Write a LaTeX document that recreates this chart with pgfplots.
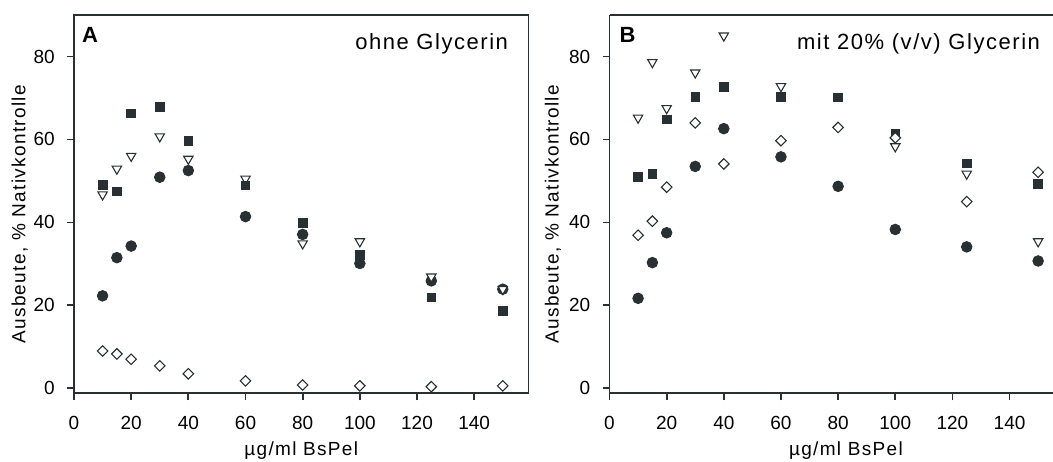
\documentclass[border=0pt]{standalone}
\usepackage{fontspec}
\setmainfont{Liberation Sans}
\newfontfamily\spaced[LetterSpace=7]{Liberation Sans}
\usepackage{pgfplots}
\pgfplotsset{compat=1.18}
\definecolor{ink}{RGB}{40,48,52}

\pgfplotstableread{
x y
10 22.3
15 31.5
20 34.3
30 50.9
40 52.5
60 41.4
80 37.1
100 30.1
125 25.9
150 23.9
}\Acirc
\pgfplotstableread{
x y
10 46.7
15 52.9
20 56.0
30 60.7
40 55.3
60 50.5
80 34.9
100 35.4
125 26.9
150 23.9
}\Atri
\pgfplotstableread{
x y
10 49.1
15 47.5
20 66.3
30 67.9
40 59.6
60 48.9
80 39.8
100 32.1
125 21.9
150 18.7
}\Asq
\pgfplotstableread{
x y
10 9.0
15 8.3
20 7.0
30 5.4
40 3.5
60 1.8
80 0.8
100 0.6
125 0.4
150 0.6
}\Adia
\pgfplotstableread{
x y
10 21.7
15 30.3
20 37.5
30 53.5
40 62.6
60 55.8
80 48.7
100 38.3
125 34.1
150 30.7
}\Bcirc
\pgfplotstableread{
x y
10 65.2
15 78.6
20 67.5
30 76.1
40 85.0
60 72.8
100 58.3
125 51.7
150 35.4
}\Btri
\pgfplotstableread{
x y
10 50.9
15 51.7
20 64.8
30 70.2
40 72.7
60 70.2
80 70.1
100 61.4
125 54.2
150 49.3
}\Bsq
\pgfplotstableread{
x y
10 36.9
15 40.3
20 48.5
30 64.0
40 54.1
60 59.7
80 62.9
100 60.4
125 45.0
150 52.1
}\Bdia

\pgfplotsset{
  every non boxed y axis/.style={},
  every non boxed x axis/.style={},
  panel/.style={
    scale only axis, height=189.15pt,
    ymin=-1.2, ymax=90, xmin=0,
    xtick={0,20,...,140}, ytick={0,20,...,80},
    xtick pos=bottom, ytick pos=left,
    tick align=outside, major tick length=3.5pt,
    axis line style={ink, line width=0.9pt},
    every tick/.style={ink, line width=0.9pt},
    ticklabel style={font=\fontsize{9.5}{11}\selectfont, text=black},
    /pgf/number format/assume math mode=true,
    xticklabel style={inner sep=0pt, yshift=-7.7pt},
    yticklabel style={inner sep=0pt, xshift=-5.9pt},
    label style={font=\fontsize{9.5}{11}\selectfont\spaced, text=black},
    clip=false,
  },
  circ/.style={only marks, mark=*, mark size=2.67pt, color=ink},
  tri/.style={only marks, mark=triangle*, mark size=2.7pt,
     mark options={rotate=180, fill=white, draw=ink, line width=0.55pt}},
  sq/.style={only marks, mark=square*, mark size=2.17pt, color=ink},
  dia/.style={only marks, mark=square*, mark size=1.86pt,
     mark options={rotate=45, fill=white, draw=ink, line width=0.55pt}},
}

\begin{document}
\begin{tikzpicture}
\useasboundingbox (0,0) rectangle (526.5pt,230.5pt);
\begin{axis}[panel, at={(37pt,33.85pt)}, anchor=south west,
  width=227.25pt, xmax=159,
  xlabel={µg/ml BsPel},
  ylabel={Ausbeute, \% Nativkontrolle},
  xlabel style={at={(axis description cs:0.5,-0.1644)}, anchor=base},
  ylabel style={at={(axis description cs:-0.1195,0.473)}, anchor=center},
]
\addplot[circ] table {\Acirc};
\addplot[tri] table {\Atri};
\addplot[sq] table {\Asq};
\addplot[dia] table {\Adia};
\node[anchor=base west, inner sep=0pt, font=\fontsize{11}{13}\selectfont\bfseries] at (rel axis cs:0.0169,0.9268) {A};
\node[anchor=base west, inner sep=0pt, font=\fontsize{11}{13}\selectfont\spaced] at (rel axis cs:0.618,0.909) {ohne Glycerin};
\end{axis}
\begin{axis}[panel, at={(304.75pt,33.85pt)}, anchor=south west,
  width=221.75pt, xmax=155.2,
  axis x line*=box, axis y line*=left,
  xlabel={µg/ml BsPel},
  ylabel={Ausbeute, \% Nativkontrolle},
  xlabel style={at={(axis description cs:0.533,-0.1644)}, anchor=base},
  ylabel style={at={(axis description cs:-0.1274,0.473)}, anchor=center},
]
\addplot[circ] table {\Bcirc};
\addplot[tri] table {\Btri};
\addplot[sq] table {\Bsq};
\addplot[dia] table {\Bdia};
\node[anchor=base west, inner sep=0pt, font=\fontsize{11}{13}\selectfont\bfseries] at (rel axis cs:0.0221,0.9268) {B};
\node[anchor=base west, inner sep=0pt, font=\fontsize{11}{13}\selectfont\spaced] at (rel axis cs:0.422,0.909) {mit 20\% (v/v) Glycerin};
\end{axis}
\end{tikzpicture}
\end{document}
